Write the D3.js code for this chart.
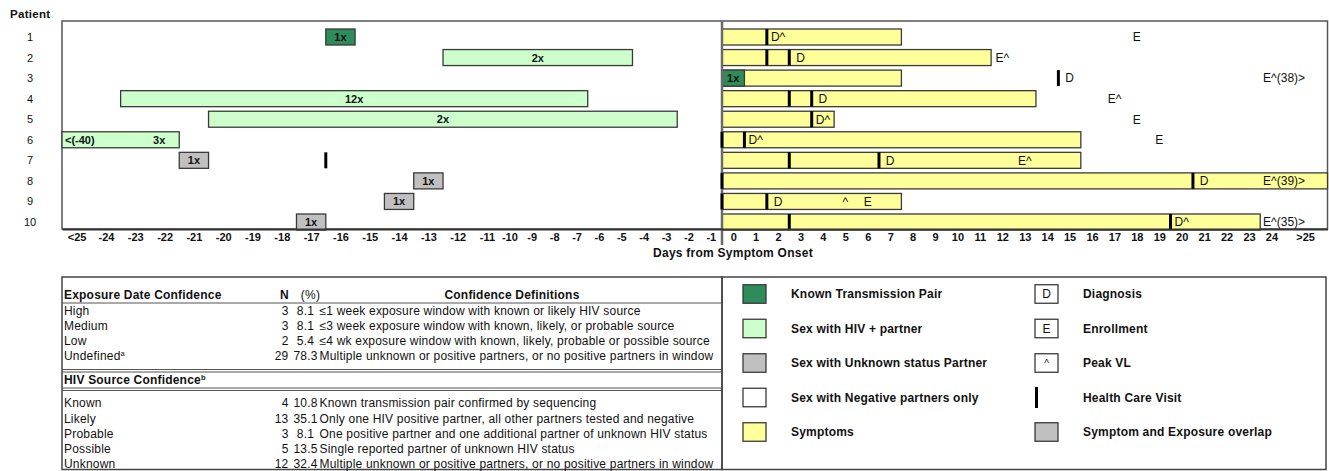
<!DOCTYPE html>
<html>
<head>
<meta charset="utf-8">
<script src="https://cdn.jsdelivr.net/npm/d3@7"></script>
<style>
  body { margin: 0; background: #fff; }
  svg { display: block; font-family: "Liberation Sans", Arial, Helvetica, sans-serif; }
</style>
</head>
<body>
<svg id="chart" width="1329" height="471"></svg>
<script>
// ---- Timeline data (days relative to symptom onset, inclusive) ----
const patients = [1, 2, 3, 4, 5, 6, 7, 8, 9, 10];
const exposureStart = [-16, -12, 0, -23, -20, -40, -21, -13, -14, -17];
const exposureEnd   = [-16,  -5, 0,  -7,  -3, -22, -21, -13, -14, -17];
const exposureType  = ["known", "hivpos", "known", "hivpos", "hivpos", "hivpos", "unknown", "unknown", "unknown", "unknown"];
const exposureCount = ["1x", "2x", "1x", "12x", "2x", "3x", "1x", "1x", "1x", "1x"];
const symptomStart  = [0, 0, 0, 0, 0, 0, 0, 0, 0, 0];
const symptomEnd    = [7, 11, 7, 13, 4, 15, 15, 26, 7, 23];
const visitDays     = [[2], [2, 3], [15], [3, 4], [4], [0, 1], [-16, 3, 7], [0, 21], [0, 2], [3, 20]];
const diagnosisDay  = [2, 3, 15, 4, 4, 1, 7, 21, 2, 20];
const enrollmentDay = [18, 12, 38, 17, 18, 19, 13, 39, 6, 35];
const peakVLDays    = [[2], [12], [38], [17], [4], [1], [13], [39], [5], [20, 35]];

// axis tick labels; the last one stands for the overflow column
const tickDays   = d3.range(-25, 25).concat([25.5]);
const tickLabels = ["<25"].concat(d3.range(-24, 25).map(String), [">25"]);

// ---- Confidence table ----
const exposureLevels = ["High", "Medium", "Low", "Undefined"];
const exposureN      = [3, 3, 2, 29];
const exposurePct    = ["8.1", "8.1", "5.4", "78.3"];
const exposureDefs   = [
  "\u22641 week exposure window with known or likely HIV source",
  "\u22643 week exposure window with known, likely, or probable source",
  "\u22644 wk exposure window with known, likely, probable or possible source",
  "Multiple unknown or positive partners, or no positive partners in window"
];
const sourceLevels = ["Known", "Likely", "Probable", "Possible", "Unknown"];
const sourceN      = [4, 13, 3, 5, 12];
const sourcePct    = ["10.8", "35.1", "8.1", "13.5", "32.4"];
const sourceDefs   = [
  "Known transmission pair confirmed by sequencing",
  "Only one HIV positive partner, all other partners tested and negative",
  "One positive partner and one additional partner of unknown HIV status",
  "Single reported partner of unknown HIV status",
  "Multiple unknown or positive partners, or no positive partners in window"
];

// ---- Legend ----
const legendLeftLabels  = ["Known Transmission Pair", "Sex with HIV + partner", "Sex with Unknown status Partner", "Sex with Negative partners only", "Symptoms"];
const legendLeftKeys    = ["known", "hivpos", "unknown", "negative", "symptom"];
const legendRightLabels = ["Diagnosis", "Enrollment", "Peak VL", "Health Care Visit", "Symptom and Exposure overlap"];
const legendRightKeys   = ["D", "E", "^", "visit", "overlap"];

const fills = {
  known: "#2e8b5a", hivpos: "#ccffcc", unknown: "#c0c0c0",
  negative: "#ffffff", symptom: "#ffff99", overlap: "#c0c0c0"
};
const ink = "#111";
const edge = "#3a3a3a";

const svg = d3.select("#chart");

// ---- Scales ----
const plot = { left: 62, right: 1327.5, top: 21, bottom: 229 };
// the pre-onset half uses wider day cells for the early weeks
const x = d3.scaleLinear()
  .domain([-25.5, -11, -0.5, 26.5])
  .range([plot.left, 487, 722, plot.right]);
const [dMin, dMax] = [x.domain()[0], x.domain()[x.domain().length - 1]];
const y = d3.scalePoint().domain(patients).range([37, 222]);
const barH = 16;

const clampX = d => x(Math.max(dMin, Math.min(dMax, d)));

// ---- Frame ----
svg.append("rect")
  .attr("x", plot.left).attr("y", plot.top)
  .attr("width", plot.right - plot.left).attr("height", plot.bottom - plot.top)
  .attr("fill", "none").attr("stroke", "#555").attr("stroke-width", 1.5);

svg.append("text").attr("x", 10).attr("y", 17.5)
  .attr("font-size", 11.5).attr("font-weight", "bold").attr("letter-spacing", 0.3)
  .attr("fill", ink).text("Patient");

svg.append("g").selectAll("text").data(patients).join("text")
  .attr("x", 30).attr("y", d => y(d) + 4)
  .attr("text-anchor", "middle").attr("font-size", 11).attr("fill", ink)
  .text(d => d);

// ---- Symptom bars ----
const rows = patients.map((p, i) => ({ p, i }));
svg.append("g").selectAll("rect").data(rows).join("rect")
  .attr("x", d => clampX(symptomStart[d.i] - 0.5))
  .attr("width", d => clampX(symptomEnd[d.i] + 0.5) - clampX(symptomStart[d.i] - 0.5))
  .attr("y", d => y(d.p) - barH / 2).attr("height", barH)
  .attr("fill", fills.symptom).attr("stroke", edge).attr("stroke-width", 1.3);

// ---- Exposure windows ----
const gExp = svg.append("g");
gExp.selectAll("rect").data(rows).join("rect")
  .attr("x", d => clampX(exposureStart[d.i] - 0.5))
  .attr("width", d => clampX(exposureEnd[d.i] + 0.5) - clampX(exposureStart[d.i] - 0.5))
  .attr("y", d => y(d.p) - barH / 2).attr("height", barH)
  .attr("fill", d => fills[exposureType[d.i]]).attr("stroke", edge).attr("stroke-width", 1.3);

gExp.selectAll("text.count").data(rows).join("text").attr("class", "count")
  .attr("x", d => {
    const clipped = exposureStart[d.i] - 0.5 < dMin;
    return clipped ? x(exposureEnd[d.i] + 0.5) - 20
                   : (clampX(exposureStart[d.i] - 0.5) + clampX(exposureEnd[d.i] + 0.5)) / 2;
  })
  .attr("y", d => y(d.p) + 4)
  .attr("text-anchor", "middle").attr("font-size", 11).attr("font-weight", "bold").attr("fill", ink)
  .text(d => exposureCount[d.i]);

gExp.selectAll("text.start").data(rows.filter(d => exposureStart[d.i] - 0.5 < dMin)).join("text")
  .attr("class", "start")
  .attr("x", x(dMin) + 3).attr("y", d => y(d.p) + 4)
  .attr("font-size", 11).attr("font-weight", "bold").attr("fill", ink)
  .text(d => `<(${exposureStart[d.i]})`);

// ---- Onset divider ----
svg.append("line")
  .attr("x1", x(-0.5)).attr("x2", x(-0.5)).attr("y1", plot.top).attr("y2", 245)
  .attr("stroke", "#6a6a6a").attr("stroke-width", 2.5);

// ---- Health care visits ----
const visits = rows.flatMap(d => visitDays[d.i].map(v => ({ p: d.p, day: v })));
svg.append("g").selectAll("line").data(visits).join("line")
  .attr("x1", d => x(d.day - 0.5)).attr("x2", d => x(d.day - 0.5))
  .attr("y1", d => y(d.p) - barH / 2).attr("y2", d => y(d.p) + barH / 2)
  .attr("stroke", "#000").attr("stroke-width", 3);

// ---- Diagnosis / enrollment / peak VL markers ----
const markers = rows.flatMap(d => {
  const byDay = new Map();
  const add = (day, code) => byDay.set(day, (byDay.get(day) || "") + code);
  add(diagnosisDay[d.i], "D");
  add(enrollmentDay[d.i], "E");
  peakVLDays[d.i].forEach(v => add(v, "^"));
  return Array.from(byDay, ([day, code]) => ({ p: d.p, day, code }));
});
const lastDay = tickDays[tickDays.length - 2];
svg.append("g").selectAll("text").data(markers).join("text")
  .attr("x", d => d.day > lastDay ? x(tickDays[tickDays.length - 1]) : x(d.day))
  .attr("y", d => y(d.p) + 4.3)
  .attr("text-anchor", d => d.day > lastDay ? "end" : "middle")
  .attr("font-size", 12).attr("fill", ink)
  .text(d => d.day > lastDay ? `${d.code}(${d.day})>` : d.code);

// ---- Axis ----
const axis = d3.axisBottom(x)
  .tickValues(tickDays)
  .tickFormat(d => tickLabels[tickDays.indexOf(d)])
  .tickSize(0).tickSizeOuter(0).tickPadding(4);
const gAxis = svg.append("g")
  .attr("transform", `translate(0,${plot.bottom})`)
  .call(axis)
  .attr("font-family", null).attr("font-size", 11).attr("font-weight", "bold");
gAxis.select(".domain").attr("stroke", "#333").attr("stroke-width", 2);
gAxis.selectAll("text").attr("fill", ink);

svg.append("text").attr("x", 733).attr("y", 256.5)
  .attr("text-anchor", "middle").attr("font-size", 12).attr("font-weight", "bold")
  .attr("letter-spacing", 0.25).attr("fill", ink)
  .text("Days from Symptom Onset");

// ---- Confidence table ----
const tbl = { left: 62, right: 722, top: 277, bottom: 469.5 };
const col = { label: 64, n: 288.5, pct: 305.5, def: 319.5, defHead: 512 };
const gT = svg.append("g").attr("font-size", 12).attr("letter-spacing", 0.2).attr("fill", ink);

gT.append("rect")
  .attr("x", tbl.left).attr("y", tbl.top)
  .attr("width", tbl.right - tbl.left).attr("height", tbl.bottom - tbl.top)
  .attr("fill", "none").attr("stroke", "#444").attr("stroke-width", 1.5);

[[303, 1], [369.5, 1], [372, 1], [388, 1], [390.5, 1]].forEach(([yy, w]) => {
  gT.append("line").attr("x1", tbl.left).attr("x2", tbl.right)
    .attr("y1", yy).attr("y2", yy).attr("stroke", "#555").attr("stroke-width", w);
});

const head = gT.append("g").attr("font-weight", "bold");
head.append("text").attr("x", col.label).attr("y", 299.3).text("Exposure Date Confidence");
head.append("text").attr("x", col.n - 4).attr("y", 299.3).attr("text-anchor", "middle").text("N");
head.append("text").attr("x", col.pct + 5).attr("y", 299.3).attr("text-anchor", "middle").attr("font-weight", "normal").text("(%)");
head.append("text").attr("x", col.defHead).attr("y", 299.3).attr("text-anchor", "middle").text("Confidence Definitions");

function tableBlock(levels, ns, pcts, defs, y0, step, supIndex, supText) {
  const g = gT.append("g");
  levels.forEach((lv, i) => {
    const yy = y0 + i * step + 4.3;
    const t = g.append("text").attr("x", col.label).attr("y", yy).text(lv);
    if (i === supIndex) t.append("tspan").attr("font-size", 7.5).attr("dy", -4.5).text(supText);
    g.append("text").attr("x", col.n).attr("y", yy).attr("text-anchor", "end").text(ns[i]);
    g.append("text").attr("x", col.pct).attr("y", yy).attr("text-anchor", "middle").text(pcts[i]);
    g.append("text").attr("x", col.def).attr("y", yy).text(defs[i]);
  });
}
tableBlock(exposureLevels, exposureN, exposurePct, exposureDefs, 310.5, 15.2, 3, "a");

const srcHead = gT.append("text").attr("x", col.label).attr("y", 384.3).attr("font-weight", "bold")
  .text("HIV Source Confidence");
srcHead.append("tspan").attr("font-size", 7.5).attr("dy", -4.5).text("b");

tableBlock(sourceLevels, sourceN, sourcePct, sourceDefs, 403, 15.2, -1, "");

// ---- Legend ----
const leg = { left: 722, right: 1326, top: 277, bottom: 469.5 };
const legRow = i => 294 + i * 34.5;
const sw = { w: 23, h: 18.5 };
const gL = svg.append("g").attr("font-size", 12).attr("fill", ink);

gL.append("rect")
  .attr("x", leg.left).attr("y", leg.top)
  .attr("width", leg.right - leg.left).attr("height", leg.bottom - leg.top)
  .attr("fill", "none").attr("stroke", "#444").attr("stroke-width", 1.5);

legendLeftKeys.forEach((k, i) => {
  gL.append("rect").attr("x", 743).attr("y", legRow(i) - sw.h / 2)
    .attr("width", sw.w).attr("height", sw.h)
    .attr("fill", fills[k]).attr("stroke", edge).attr("stroke-width", 1.3);
  gL.append("text").attr("x", 791).attr("y", legRow(i) + 4.3)
    .attr("font-weight", "bold").attr("letter-spacing", 0.2).text(legendLeftLabels[i]);
});

legendRightKeys.forEach((k, i) => {
  const cy = legRow(i);
  if (k === "visit") {
    gL.append("line").attr("x1", 1036.5).attr("x2", 1036.5)
      .attr("y1", cy - 10.5).attr("y2", cy + 10.5)
      .attr("stroke", "#000").attr("stroke-width", 3);
  } else {
    gL.append("rect").attr("x", 1035).attr("y", cy - sw.h / 2)
      .attr("width", sw.w).attr("height", sw.h)
      .attr("fill", fills[k] || "#fff").attr("stroke", edge).attr("stroke-width", 1.3);
    if (!fills[k]) {
      gL.append("text").attr("x", 1035 + sw.w / 2).attr("y", cy + 4.3)
        .attr("text-anchor", "middle").attr("font-size", k === "^" ? 10 : 12).text(k);
    }
  }
  gL.append("text").attr("x", 1083).attr("y", cy + 4.3)
    .attr("font-weight", "bold").attr("letter-spacing", 0.2).text(legendRightLabels[i]);
});
</script>
</body>
</html>
